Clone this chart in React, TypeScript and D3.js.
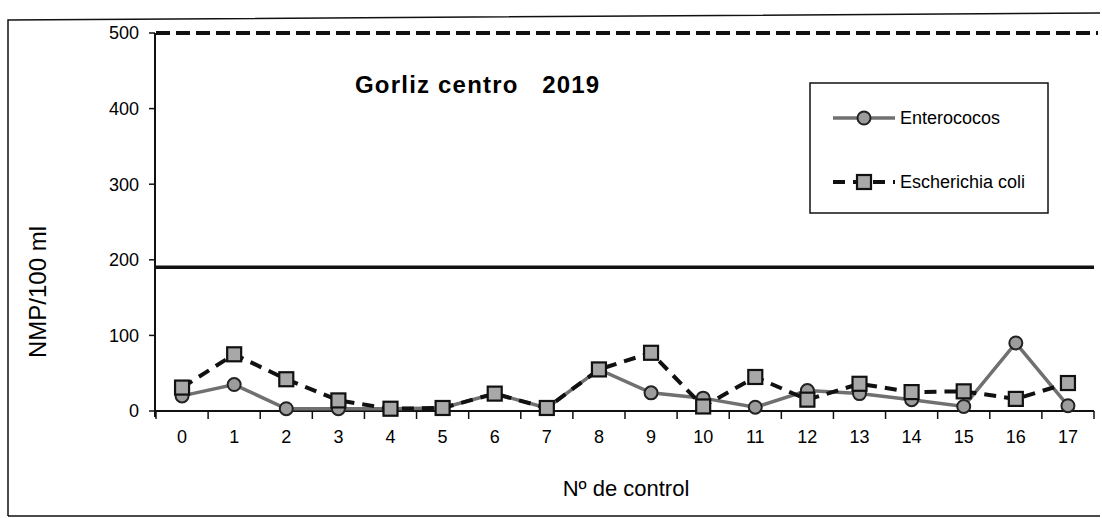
// Externals
import * as d3 from 'd3'
import React, { useEffect } from 'react'

const controls = ['0', '1', '2', '3', '4', '5', '6', '7', '8', '9', '10', '11', '12', '13', '14', '15', '16', '17']
const enterococos = [20, 35, 3, 3, 3, 4, 23, 4, 55, 24, 17, 5, 27, 23, 15, 6, 90, 7]
const ecoli = [31, 75, 42, 14, 3, 4, 23, 4, 55, 77, 6, 45, 15, 36, 25, 26, 16, 37]
const yTicks = [0, 100, 200, 300, 400, 500]
const limitEcoli = 500
const limitEnterococos = 190

const W = 1102
const H = 518
const FONT = '"Liberation Sans", Arial, sans-serif'

const App = () => {
  useEffect(() => {
    document.body.style.margin = '0'
  }, [])

  const x = d3.scaleBand().domain(controls).range([156, 1094])
  const y = d3.scaleLinear().domain([0, 500]).range([411, 33])
  const cx = (d: string) => (x(d) as number) + x.bandwidth() / 2

  const lineEnt = d3.line<number>().x((d, i) => cx(controls[i])).y((d) => y(d))
  const boundaries = d3.range(controls.length + 1).map((i) => 156 + i * x.step())

  const square = (px: number, py: number, key: any) => (
    <rect key={key} x={px - 7} y={py - 7} width={14} height={14}
      fill='#a8a8a8' stroke='#111' strokeWidth={2.2} />
  )
  const circle = (px: number, py: number, key: any) => (
    <circle key={key} cx={px} cy={py} r={6.5} fill='#9c9c9c' stroke='#222' strokeWidth={2} />
  )

  return (
    <svg width={W} height={H} style={{ display: 'block', background: '#fff' }} fontFamily={FONT}>
      {/* outer frame */}
      <path d={`M8,516 L8,20 L1100,13 M8,516 L1100,516`} fill='none' stroke='#111' strokeWidth={1.5} />

      {/* limit lines */}
      <line x1={156} x2={1098} y1={y(limitEcoli)} y2={y(limitEcoli)}
        stroke='#111' strokeWidth={4} strokeDasharray='14 6' />
      <line x1={156} x2={1094} y1={y(limitEnterococos)} y2={y(limitEnterococos)}
        stroke='#111' strokeWidth={3.5} />

      {/* axes */}
      <line x1={155} x2={155} y1={y(500)} y2={y(0) + 6} stroke='#111' strokeWidth={2} />
      {yTicks.map((t) => (
        <g key={t}>
          <line x1={149} x2={155} y1={y(t)} y2={y(t)} stroke='#111' strokeWidth={1.5} />
          <text x={139} y={y(t)} dy='0.35em' textAnchor='end' fontSize={18}>{t}</text>
        </g>
      ))}
      <line x1={155} x2={1094} y1={y(0)} y2={y(0)} stroke='#111' strokeWidth={2} />
      {boundaries.map((b, i) => (
        <line key={i} x1={b} x2={b} y1={y(0)} y2={y(0) + 8} stroke='#111' strokeWidth={1.5} />
      ))}
      {controls.map((c) => (
        <text key={c} x={cx(c)} y={443} textAnchor='middle' fontSize={18}>{c}</text>
      ))}

      {/* axis titles */}
      <text x={626} y={496} textAnchor='middle' fontSize={22}>Nº de control</text>
      <text transform='translate(46,292) rotate(-90)' textAnchor='middle' fontSize={24}>NMP/100 ml</text>

      {/* chart title */}
      <text x={355} y={93} fontSize={24} fontWeight='bold' letterSpacing={1.2}
        style={{ whiteSpace: 'pre' }}>Gorliz centro   2019</text>

      {/* series */}
      <path d={lineEnt(enterococos) as string} fill='none' stroke='#707070' strokeWidth={3.5} />
      <path d={lineEnt(ecoli) as string} fill='none' stroke='#111' strokeWidth={4} strokeDasharray='12 8' />
      {enterococos.map((v, i) => circle(cx(controls[i]), y(v), 'c' + i))}
      {ecoli.map((v, i) => square(cx(controls[i]), y(v), 's' + i))}

      {/* legend */}
      <rect x={810} y={83} width={238} height={130} fill='#fff' stroke='#111' strokeWidth={1.5} />
      <line x1={833} x2={895} y1={118} y2={118} stroke='#707070' strokeWidth={3.5} />
      {circle(864, 118, 'lc')}
      <text x={900} y={124} fontSize={18}>Enterococos</text>
      <line x1={833} x2={895} y1={182} y2={182} stroke='#111' strokeWidth={4} strokeDasharray='12 8' />
      {square(864, 182, 'ls')}
      <text x={900} y={188} fontSize={18}>Escherichia coli</text>
    </svg>
  )
}

export default App
